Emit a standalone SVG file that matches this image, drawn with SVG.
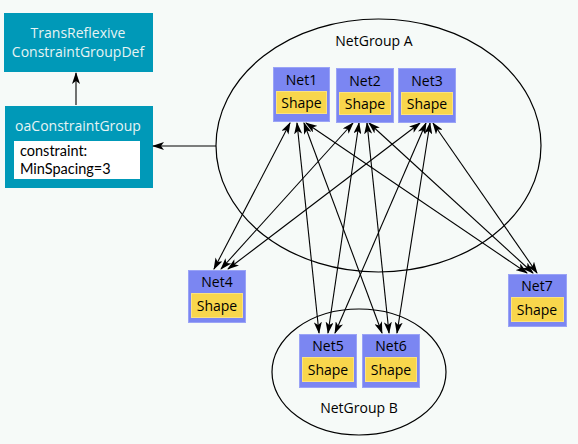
<svg xmlns="http://www.w3.org/2000/svg" width="578" height="444" viewBox="0 0 578 444">
<defs>
<style>
.bg{fill:#f6faf8}
.teal{fill:#0099b8}
.tt{font-family:"Open Sans","DejaVu Sans",sans-serif;font-size:14px;fill:#e6f4f4;text-anchor:middle}
.bt{font-family:Lato,"Open Sans",sans-serif;font-size:14.5px;fill:#000}
.net{fill:#7b86f2;stroke:#9aa3f6;stroke-width:1}
.shape{fill:#f8d64c;stroke:#fbe27f;stroke-width:1}
.nt{font-family:"Open Sans","DejaVu Sans",sans-serif;font-size:14px;fill:#000;text-anchor:middle}
.grp{fill:none;stroke:#000;stroke-width:1.2}
.gl{font-family:"Open Sans","DejaVu Sans",sans-serif;font-size:14px;fill:#000;text-anchor:middle}
.c{stroke:#000;stroke-width:1.1;fill:none;marker-start:url(#ah);marker-end:url(#ah)}
.s{stroke:#000;stroke-width:1.1;fill:none;marker-end:url(#ah)}
</style>
<marker id="ah" viewBox="0 0 12 8" refX="11" refY="4" markerWidth="12" markerHeight="8" markerUnits="userSpaceOnUse" orient="auto-start-reverse">
<path d="M0,0 L12,4 L0,8 L3,4 Z" fill="#000"/>
</marker>
</defs>
<rect class="bg" x="0" y="0" width="578" height="444"/>

<g id="groupA">
<ellipse class="grp" cx="378.5" cy="145.5" rx="162.5" ry="126.5"/>
<text class="gl" x="374" y="46">NetGroup A</text>
</g>
<g id="groupB">
<ellipse class="grp" cx="359" cy="372" rx="87" ry="63"/>
<text class="gl" x="359" y="413">NetGroup B</text>
</g>

<g id="transReflexive">
<rect class="teal" x="4" y="13" width="149" height="59"/>
<text class="tt" x="78" y="38">TransReflexive</text>
<text class="tt" x="78" y="57">ConstraintGroupDef</text>
</g>
<g id="oaConstraintGroup">
<rect class="teal" x="5" y="106" width="148" height="82"/>
<text class="tt" x="78" y="131">oaConstraintGroup</text>
<rect x="14" y="141" width="126" height="38" fill="#fff"/>
<text class="bt" x="20" y="156">constraint:</text>
<text class="bt" x="20" y="174">MinSpacing=3</text>
</g>

<g id="connectors">
<path class="s" d="M76,105 L76,73" stroke="#555"/>
<path class="s" d="M216,146 L153,146"/>
<path class="c" d="M290,123 L214,269"/>
<path class="c" d="M297,123 L319,333"/>
<path class="c" d="M304,123 L382,333"/>
<path class="c" d="M306,123 L527,273"/>
<path class="c" d="M353,123 L221,269"/>
<path class="c" d="M359,123 L328,333"/>
<path class="c" d="M367,123 L389,333"/>
<path class="c" d="M369,123 L533,273"/>
<path class="c" d="M420,123 L228,269"/>
<path class="c" d="M426,123 L335,333"/>
<path class="c" d="M430,123 L397,333"/>
<path class="c" d="M433,123 L537,273"/>
</g>

<g id="net1">
<rect class="net" x="273.5" y="67.5" width="56" height="54"/>
<text class="nt" x="301.5" y="85">Net1</text>
<rect class="shape" x="276.5" y="91.5" width="50" height="22"/>
<text class="nt" x="301.5" y="108">Shape</text>
</g>
<g id="net2">
<rect class="net" x="336.5" y="68.5" width="57" height="54"/>
<text class="nt" x="365" y="86">Net2</text>
<rect class="shape" x="339.5" y="92.5" width="51" height="22"/>
<text class="nt" x="365" y="109">Shape</text>
</g>
<g id="net3">
<rect class="net" x="398.5" y="68.5" width="57" height="54"/>
<text class="nt" x="427" y="86">Net3</text>
<rect class="shape" x="401.5" y="92.5" width="51" height="22"/>
<text class="nt" x="427" y="109">Shape</text>
</g>
<g id="net4">
<rect class="net" x="188.5" y="270.5" width="57" height="52"/>
<text class="nt" x="217" y="287">Net4</text>
<rect class="shape" x="191.5" y="293.5" width="51" height="24"/>
<text class="nt" x="217" y="311">Shape</text>
</g>
<g id="net5">
<rect class="net" x="299.5" y="334.5" width="57" height="53"/>
<text class="nt" x="328" y="351">Net5</text>
<rect class="shape" x="302.5" y="357.5" width="51" height="24"/>
<text class="nt" x="328" y="375">Shape</text>
</g>
<g id="net6">
<rect class="net" x="362.5" y="334.5" width="57" height="53"/>
<text class="nt" x="391" y="351">Net6</text>
<rect class="shape" x="365.5" y="357.5" width="51" height="24"/>
<text class="nt" x="391" y="375">Shape</text>
</g>
<g id="net7">
<rect class="net" x="508.5" y="274.5" width="58" height="52"/>
<text class="nt" x="537" y="291">Net7</text>
<rect class="shape" x="511.5" y="297.5" width="52" height="24"/>
<text class="nt" x="537" y="315">Shape</text>
</g>
</svg>
